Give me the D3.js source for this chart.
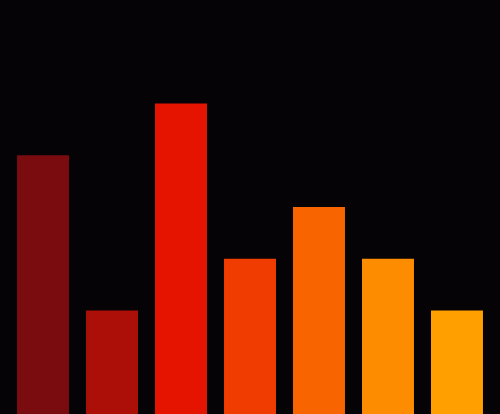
<!DOCTYPE html>
<html>
<head>
<meta charset="utf-8">
<script src="https://cdn.jsdelivr.net/npm/d3@7"></script>
<style>
  html, body { margin: 0; padding: 0; background: #050305; }
  svg { display: block; }
</style>
</head>
<body>
<div class="graph"></div>
<script>
//chart data
const categories = ["A", "B", "C", "D", "E", "F", "G"];
const values = [5, 2, 6, 3, 4, 3, 2];
const colors = ["#7a0c10", "#ab0f08", "#e51400", "#f03c00", "#f86400", "#fe8c00", "#ffa000"];

//define dimensions
const SIZE = {X: 500, Y: 414};

const svg = d3.select(".graph").append("svg")
    .attr("width", SIZE.X)
    .attr("height", SIZE.Y);

svg.append("rect")
    .attr("width", SIZE.X)
    .attr("height", SIZE.Y)
    .attr("fill", "#050305");

//define scales
const x = d3.scaleBand()
    .domain(categories)
    .range([0, SIZE.X])
    .paddingInner(0.247)
    .paddingOuter(0.247);

const y = d3.scaleLinear()
    .domain([0, 8])
    .range([SIZE.Y, 0]);

const data = categories.map((c, i) => ({cat: c, value: values[i], color: colors[i]}));

svg.selectAll("rect.bar")
    .data(data)
    .enter()
    .append("rect")
        .attr("class", "bar")
        .attr("x", d => x(d.cat))
        .attr("y", d => y(d.value))
        .attr("width", x.bandwidth())
        .attr("height", d => SIZE.Y - y(d.value))
        .attr("fill", d => d.color);
</script>
</body>
</html>
